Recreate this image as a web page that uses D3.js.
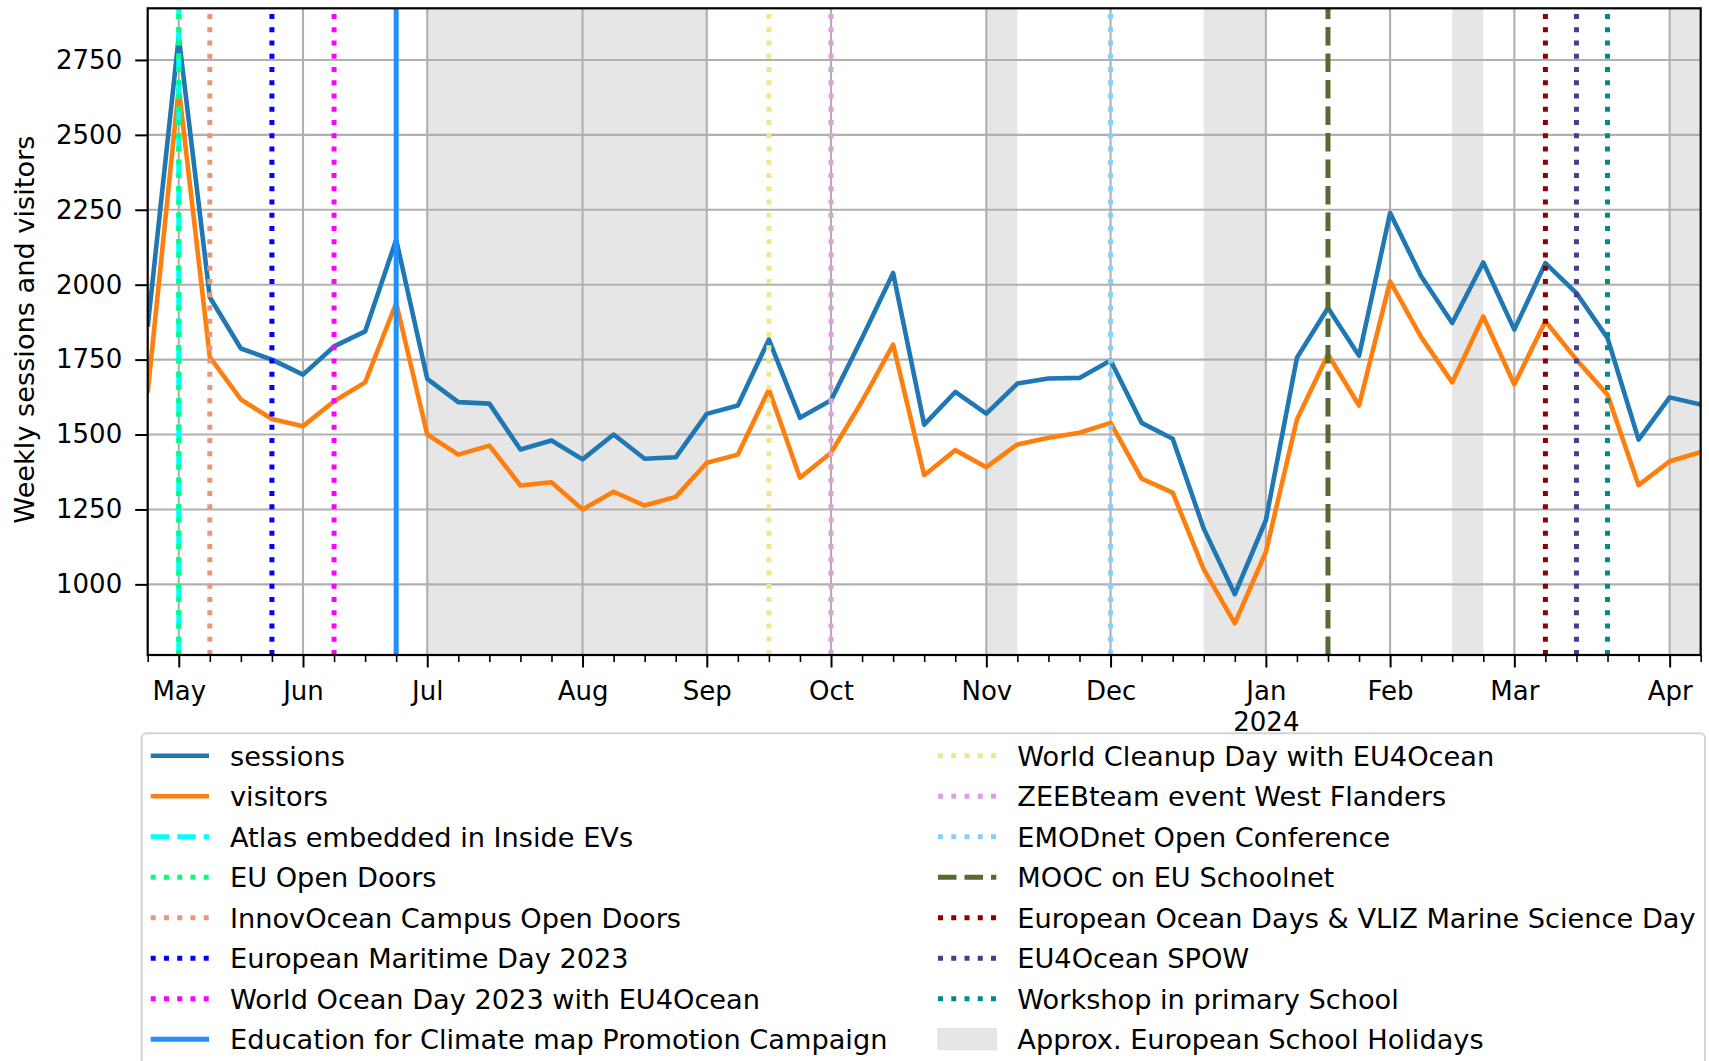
<!DOCTYPE html>
<html>
<head>
<meta charset="utf-8">
<script src="https://cdn.jsdelivr.net/npm/d3@7"></script>
<style>
  html, body { margin: 0; padding: 0; background: #fff; overflow: hidden; }
  svg { display: block; font-family: "DejaVu Sans", sans-serif; }
</style>
</head>
<body>
<svg id="chart" width="1709" height="1061"></svg>
<script>
// ---------- DATA ----------
const weeks = [
  "2023-04-24","2023-05-01","2023-05-08","2023-05-15","2023-05-22","2023-05-29",
  "2023-06-05","2023-06-12","2023-06-19","2023-06-26","2023-07-03","2023-07-10",
  "2023-07-17","2023-07-24","2023-07-31","2023-08-07","2023-08-14","2023-08-21",
  "2023-08-28","2023-09-04","2023-09-11","2023-09-18","2023-09-25","2023-10-02",
  "2023-10-09","2023-10-16","2023-10-23","2023-10-30","2023-11-06","2023-11-13",
  "2023-11-20","2023-11-27","2023-12-04","2023-12-11","2023-12-18","2023-12-25",
  "2024-01-01","2024-01-08","2024-01-15","2024-01-22","2024-01-29","2024-02-05",
  "2024-02-12","2024-02-19","2024-02-26","2024-03-04","2024-03-11","2024-03-18",
  "2024-03-25","2024-04-01","2024-04-08"
];
const sessions = [
  1860, 2828, 1958, 1787, 1750, 1700, 1794, 1844, 2150, 1686, 1608, 1603,
  1450, 1480, 1417, 1500, 1419, 1424, 1569, 1597, 1817, 1556, 1614, 1822,
  2039, 1533, 1642, 1570, 1670, 1687, 1689, 1747, 1539, 1486, 1186, 967,
  1214, 1756, 1922, 1763, 2239, 2028, 1872, 2074, 1850, 2072, 1972, 1822,
  1483, 1624, 1600
];
const visitors = [
  1640, 2656, 1758, 1617, 1552, 1528, 1611, 1674, 1939, 1500, 1433, 1463,
  1330, 1341, 1250, 1309, 1263, 1292, 1406, 1433, 1650, 1356, 1439, 1611,
  1800, 1364, 1448, 1391, 1467, 1489, 1506, 1539, 1353, 1306, 1050, 870,
  1108, 1550, 1767, 1597, 2011, 1825, 1674, 1894, 1667, 1878, 1750, 1633,
  1331, 1411, 1441
];
const monthTickWeeks = ["2023-05-01","2023-05-29","2023-06-26","2023-07-31","2023-08-28","2023-09-25",
  "2023-10-30","2023-11-27","2024-01-01","2024-01-29","2024-02-26","2024-04-01"];
const monthTickLabels = ["May","Jun","Jul","Aug","Sep","Oct","Nov","Dec","Jan\n2024","Feb","Mar","Apr"];
const yTicks = [1000, 1250, 1500, 1750, 2000, 2250, 2500, 2750];

const eventNames = ["Atlas embedded in Inside EVs","EU Open Doors","InnovOcean Campus Open Doors",
  "European Maritime Day 2023","World Ocean Day 2023 with EU4Ocean","Education for Climate map Promotion Campaign",
  "World Cleanup Day with EU4Ocean","ZEEBteam event West Flanders","EMODnet Open Conference",
  "MOOC on EU Schoolnet","European Ocean Days & VLIZ Marine Science Day","EU4Ocean SPOW","Workshop in primary School"];
const eventWeeks = ["2023-05-01","2023-05-01","2023-05-08","2023-05-22","2023-06-05","2023-06-19",
  "2023-09-11","2023-09-25","2023-11-27","2024-01-15","2024-03-04","2024-03-11","2024-03-18"];
const eventColors = ["#00ffff","#00ff7f","#e9967a","#0000ff","#ff00ff","#1e90ff",
  "#f0e68c","#dda0dd","#87cefa","#556b2f","#8b0000","#483d8b","#008b8b"];
const eventStyles = ["dashed","dotted","dotted","dotted","dotted","solid",
  "dotted","dotted","dotted","dashed","dotted","dotted","dotted"];

const holidayStarts = ["2023-06-26","2023-10-30","2023-12-18","2024-02-12","2024-04-01"];
const holidayEnds   = ["2023-08-28","2023-11-06","2024-01-01","2024-02-19","2024-04-08"];

// ---------- LAYOUT ----------
const FS = 26;      // tick labels
const FSL = 27.2;   // legend and axis label
const P = { left: 147.7, right: 1700.7, top: 8.3, bottom: 655 };
const svg = d3.select("#chart");

const x = d3.scalePoint().domain(weeks).range([P.left, P.right]);
const y = d3.scaleLinear().domain([764.3, 2922.3]).range([P.bottom, P.top]);

const dash = { dotted: "5,8.25", dashed: "18.5,8", solid: null };

// holidays
svg.append("g").selectAll("rect").data(holidayStarts).join("rect")
  .attr("x", (d) => x(d))
  .attr("y", P.top)
  .attr("width", (d, i) => x(holidayEnds[i]) - x(d))
  .attr("height", P.bottom - P.top)
  .attr("fill", "#e6e6e6");

// grid
const grid = svg.append("g").attr("stroke", "#b0b0b0").attr("stroke-width", 2.1);
grid.selectAll("line.h").data(yTicks).join("line").attr("class", "h")
  .attr("x1", P.left).attr("x2", P.right).attr("y1", (d) => y(d)).attr("y2", (d) => y(d));
grid.selectAll("line.v").data(monthTickWeeks).join("line").attr("class", "v")
  .attr("y1", P.top).attr("y2", P.bottom).attr("x1", (d) => x(d)).attr("x2", (d) => x(d));

// data lines
const line = (vals) => d3.line().x((d, i) => x(weeks[i])).y((d) => y(d))(vals);
svg.append("clipPath").attr("id", "clip").append("rect")
  .attr("x", P.left).attr("y", P.top).attr("width", P.right - P.left).attr("height", P.bottom - P.top);
const gLines = svg.append("g").attr("clip-path", "url(#clip)");
gLines.append("path").attr("d", line(sessions)).attr("fill", "none")
  .attr("stroke", "#1f77b4").attr("stroke-width", 4.6).attr("stroke-linejoin", "round");
gLines.append("path").attr("d", line(visitors)).attr("fill", "none")
  .attr("stroke", "#ff7f0e").attr("stroke-width", 4.6).attr("stroke-linejoin", "round");

// event lines (drawn bottom -> top)
gLines.selectAll("line.ev").data(eventWeeks).join("line").attr("class", "ev")
  .attr("x1", (d) => x(d)).attr("x2", (d) => x(d))
  .attr("y1", P.bottom).attr("y2", P.top)
  .attr("stroke", (d, i) => eventColors[i])
  .attr("stroke-width", 5)
  .attr("stroke-dasharray", (d, i) => dash[eventStyles[i]]);

// axes
const yAxis = svg.append("g").attr("transform", `translate(${P.left},0)`)
  .call(d3.axisLeft(y).tickValues(yTicks).tickSize(12.5).tickPadding(13).tickFormat(d3.format("d")));
yAxis.select(".domain").remove();
yAxis.selectAll(".tick line").attr("stroke", "#000").attr("stroke-width", 2);
yAxis.selectAll(".tick text").attr("font-size", FS).attr("font-family", "DejaVu Sans").attr("fill", "#000");

const minorWeeks = weeks.filter((w) => !monthTickWeeks.includes(w));
const xMinor = svg.append("g").attr("transform", `translate(0,${P.bottom})`)
  .call(d3.axisBottom(x).tickValues(minorWeeks).tickSize(7).tickFormat(""));
xMinor.select(".domain").remove();
xMinor.selectAll(".tick line").attr("stroke", "#000").attr("stroke-width", 1.6);

const xMajor = svg.append("g").attr("transform", `translate(0,${P.bottom})`)
  .call(d3.axisBottom(x).tickValues(monthTickWeeks).tickSize(12.5).tickFormat(""));
xMajor.select(".domain").remove();
xMajor.selectAll(".tick line").attr("stroke", "#000").attr("stroke-width", 2);
xMajor.selectAll(".tick").each(function (d, i) {
  const t = d3.select(this).append("text")
    .attr("text-anchor", "middle").attr("font-size", FS).attr("fill", "#000")
    .attr("font-family", "DejaVu Sans");
  monthTickLabels[i].split("\n").forEach((s, k) => {
    t.append("tspan").attr("x", 0).attr("y", 45 + k * 30.5).text(s);
  });
});

// frame
svg.append("rect").attr("x", P.left).attr("y", P.top)
  .attr("width", P.right - P.left).attr("height", P.bottom - P.top)
  .attr("fill", "none").attr("stroke", "#000").attr("stroke-width", 2.2);

// y label
svg.append("text").attr("transform", `translate(33.5,${(P.top + P.bottom) / 2 - 2}) rotate(-90)`)
  .attr("text-anchor", "middle").attr("font-size", FSL).attr("fill", "#000")
  .text("Weekly sessions and visitors");

// ---------- LEGEND ----------
const leg = svg.append("g");
leg.append("rect").attr("x", 141.7).attr("y", 733.3).attr("width", 1563.3).attr("height", 340)
  .attr("rx", 5).attr("fill", "#fff").attr("stroke", "#d4d4d4").attr("stroke-width", 2);

const legItems = [
  { name: "sessions", color: "#1f77b4", style: "solid", w: 4.6, type: "line" },
  { name: "visitors", color: "#ff7f0e", style: "solid", w: 4.6, type: "line" },
  ...eventNames.map((n, i) => ({ name: n, color: eventColors[i], style: eventStyles[i], w: 5, type: "line" })),
  { name: "Approx. European School Holidays", color: "#e6e6e6", type: "patch" }
];
const colX = [150.7, 938];
const rowY0 = 755.7, rowDY = 40.5, handleW = 58.3, textOff = 79.3;
legItems.forEach((it, k) => {
  const col = Math.floor(k / 8), row = k % 8;
  const hx = colX[col], cy = rowY0 + row * rowDY;
  if (it.type === "line") {
    leg.append("line").attr("x1", hx).attr("x2", hx + handleW).attr("y1", cy).attr("y2", cy)
      .attr("stroke", it.color).attr("stroke-width", it.w)
      .attr("stroke-dasharray", dash[it.style]);
  } else {
    leg.append("rect").attr("x", hx).attr("y", cy - 10.5).attr("width", handleW).attr("height", 21)
      .attr("fill", it.color).attr("stroke", "#dedede").attr("stroke-width", 1);
  }
  leg.append("text").attr("x", hx + textOff).attr("y", cy + 9.8)
    .attr("font-size", FSL).attr("fill", "#000").text(it.name);
});
</script>
</body>
</html>
